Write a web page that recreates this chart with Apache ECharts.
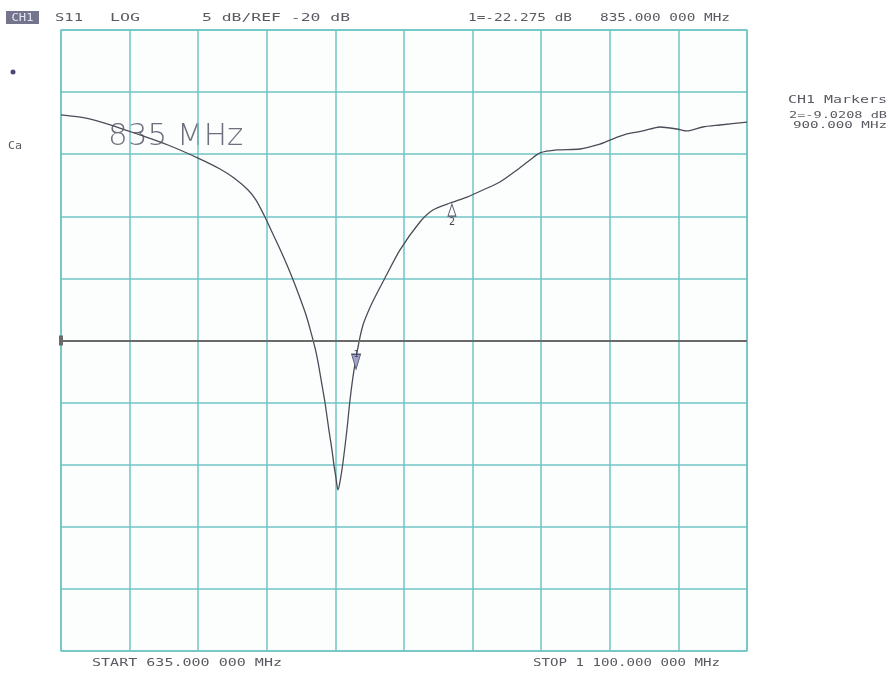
<!DOCTYPE html>
<html><head><meta charset="utf-8">
<script src="https://cdn.jsdelivr.net/npm/echarts@6/dist/echarts.min.js"></script>
<style>html,body{margin:0;padding:0;background:#fff}#c{width:893px;height:673px}</style>
</head><body><div id="c"></div>
<script>
// ---- data ----
const START_MHZ = 635, STOP_MHZ = 1100;
const Y_MIN = -45, Y_MAX = 5, Y_STEP = 5, REF_DB = -20;
const freqMHz = [635, 651.9, 668.9, 688.5, 707.5, 727.9, 742.8, 752.3, 761.8, 767.2, 772.6, 778.0, 783.4, 788.2, 792.9,
  797.0, 801.1, 804.4, 807.2, 809.2, 811.9, 813.9, 816.6, 818.7, 820.0, 821.4, 822.7, 824.1, 826.1, 828.8, 830.9, 833.6, 837.0,
  839.7, 843.1, 846.5, 854.6, 864.8, 878.3, 887.1, 898.7, 910.2, 921.0, 932.5, 944.1, 952.9, 959.7, 971.2, 986.8, 1000.3,
  1007.1, 1018.6, 1029.5, 1041.0, 1052.5, 1059.3, 1070.1, 1081.7, 1100];
const s11dB = [-1.84, -2.09, -2.65, -3.45, -4.26, -5.31, -6.19, -6.92, -7.88, -8.69, -9.90, -11.26, -12.63, -13.92, -15.29,
  -16.58, -17.95, -19.32, -20.60, -21.73, -23.58, -24.95, -27.21, -28.82, -30.02, -31.07, -32.04, -31.39, -29.86, -27.21, -24.79, -22.38, -20.12,
  -18.75, -17.71, -16.82, -14.97, -12.71, -10.46, -9.49, -8.93, -8.45, -7.88, -7.24, -6.27, -5.47, -4.90, -4.66, -4.58, -4.18,
  -3.86, -3.37, -3.13, -2.81, -2.97, -3.13, -2.81, -2.65, -2.41];
const markerNames = ['1', '2'];
const markerFreq = [835, 900];
const markerDB = [-22.275, -9.0208];
const headerTexts = ['S11', 'LOG', '5 dB/REF -20 dB', '1=-22.275 dB', '835.000 000 MHz'];
const sideTexts = ['CH1 Markers', '2=-9.0208 dB', '900.000 MHz'];
const footerTexts = ['START 635.000 000 MHz', 'STOP 1 100.000 000 MHz'];
const bigLabel = '835 MHz';

// ---- chart ----
const TEAL = '#70c4c4';
const INK = '#5a5a62';
const MONO = 'DejaVu Sans Mono';
function txt(t, x, y, w, align, size, color) {
  size = size || 11;
  const natural = t.length * size * 0.602;
  return {
    type: 'text', x: x, y: y, scaleX: w / natural, silent: true,
    style: { text: t, font: size + 'px "' + MONO + '"', fill: color || INK,
      textAlign: align || 'left', textVerticalAlign: 'middle' }
  };
}
const chart = echarts.init(document.getElementById('c'), null, { renderer: 'canvas' });
const data = freqMHz.map((f, i) => [f, s11dB[i]]);
const mp = markerFreq.map((f, i) => {
  const down = i === 0;
  return {
    coord: [f, markerDB[i]], name: markerNames[i],
    symbol: 'triangle',
    symbolRotate: down ? 180 : 0,
    symbolSize: down ? [9, 15] : [8, 12],
    symbolOffset: down ? [0, -7] : [0, 6],
    itemStyle: down ? { color: '#a0a2cc', borderColor: '#55556a', borderWidth: 1 }
                    : { color: 'rgba(255,255,255,0)', borderColor: '#55556a', borderWidth: 1 },
    label: down ? { show: true, formatter: markerNames[i], position: 'inside', fontSize: 8, color: '#44445a', fontFamily: MONO, offset: [0, -7] }
                : { show: true, formatter: markerNames[i], position: 'bottom', distance: 1, fontSize: 10, color: '#44445a', fontFamily: MONO }
  };
});

chart.setOption({
  animation: false,
  backgroundColor: '#ffffff',
  grid: { left: 61, top: 30, width: 686, height: 621, show: true, backgroundColor: '#fcfefe',
    borderColor: TEAL, borderWidth: 1.5 },
  xAxis: [
    { type: 'value', min: START_MHZ, max: STOP_MHZ, show: false },
    { type: 'value', min: 0, max: 10, interval: 1, position: 'bottom',
      axisLine: { show: false }, axisTick: { show: false }, axisLabel: { show: false },
      splitLine: { show: true, lineStyle: { color: TEAL, width: 1.5 } } }
  ],
  yAxis: { type: 'value', min: Y_MIN, max: Y_MAX, interval: Y_STEP,
    axisLine: { show: false }, axisTick: { show: false }, axisLabel: { show: false },
    splitLine: { show: true, lineStyle: { color: TEAL, width: 1.5 } } },
  series: [{
    type: 'line', xAxisIndex: 0, data: data, showSymbol: false, smooth: 0.25,
    lineStyle: { color: '#4c4c58', width: 1.3 },
    markLine: { silent: true, symbol: ['rect', 'none'], symbolSize: [10, 4],
      label: { show: false }, lineStyle: { color: '#6a6a6a', width: 2, type: 'solid' },
      data: [{ yAxis: REF_DB }] },
    markPoint: { silent: true, data: mp }
  }],
  graphic: [
    { type: 'rect', shape: { x: 6, y: 11, width: 33, height: 13 }, style: { fill: '#74748c' }, silent: true },
    txt('CH1', 22.5, 18, 22, 'center', 11, '#e4e4f2'),
    txt(headerTexts[0], 55, 18, 28),
    txt(headerTexts[1], 110, 18, 30),
    txt(headerTexts[2], 202, 18, 148),
    txt(headerTexts[3], 468, 18, 104),
    txt(headerTexts[4], 600, 18, 130),
    txt(sideTexts[0], 887, 100, 99, 'right', 10),
    txt(sideTexts[1], 887, 116, 98, 'right', 9),
    txt(sideTexts[2], 887, 126, 94, 'right', 9),
    txt(footerTexts[0], 92, 663, 190),
    txt(footerTexts[1], 533, 663, 187),
    txt('Ca', 8, 146, 14, 'left', 10),
    { type: 'circle', shape: { cx: 13, cy: 72, r: 2.5 }, style: { fill: '#4a4a7a' }, silent: true },
    { type: 'text', x: 108, y: 137, silent: true,
      style: { text: bigLabel, font: '200 31px "DejaVu Sans"', fill: '#6e6e7e', textVerticalAlign: 'middle' } }
  ]
});
</script></body></html>
